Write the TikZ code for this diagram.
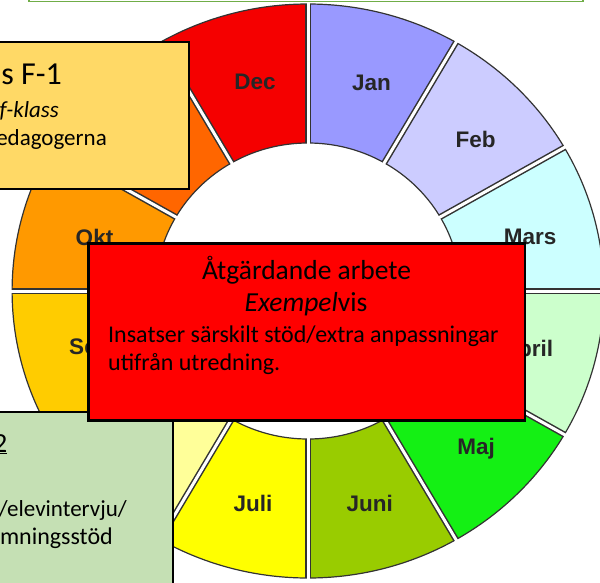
\documentclass[tikz,border=0pt]{standalone}
\usepackage{fontspec}
\setmainfont{Carlito}
\newfontfamily\monthfont{Liberation Sans}
\usetikzlibrary{calc}

\definecolor{janblue}{RGB}{153,153,255}
\definecolor{febblue}{RGB}{204,204,255}
\definecolor{marscyan}{RGB}{204,255,255}
\definecolor{aprilgreen}{RGB}{204,255,204}
\definecolor{majgreen}{RGB}{20,240,20}
\definecolor{juniolive}{RGB}{153,204,0}
\definecolor{juliyellow}{RGB}{255,255,0}
\definecolor{augyellow}{RGB}{255,255,153}
\definecolor{septgold}{RGB}{255,204,0}
\definecolor{oktorange}{RGB}{255,153,0}
\definecolor{novorange}{RGB}{255,102,0}
\definecolor{decred}{RGB}{245,0,0}
\definecolor{notegold}{RGB}{255,217,102}
\definecolor{notegreen}{RGB}{197,224,180}
\definecolor{frameline}{RGB}{112,173,71}

\def\rin{148}
\def\rout{287}
\def\monthsector[#1](#2:#3){\fill[#1] (#2:\rin) arc (#2:#3:\rin) -- (#3:\rout) arc (#3:#2:\rout) -- cycle;}
\def\monthgap(#1){\draw[gapdark] (#1:\rin) -- (#1:\rout); \draw[gapwhite] (#1:145) -- (#1:290);}

\begin{document}
\begin{tikzpicture}[x=1pt, y=-1pt,
	ringline/.style={line width=1.2pt, color=black!80},
	gapdark/.style={line width=6pt, color=black!80},
	gapwhite/.style={line width=3pt, color=white},
	monthlabel/.style={inner sep=0, text=black!85, font=\monthfont\bfseries\fontsize{22.5}{26}\selectfont},
	notebox/.style={line width=2.5pt, draw=black},
	bigtext/.style={inner sep=0, font=\fontsize{27.5}{32}\selectfont},
	headtext/.style={inner sep=0, font=\fontsize{32}{36}\selectfont},
	bodytext/.style={inner sep=0, font=\fontsize{24}{28}\selectfont},
	sidetext/.style={inner sep=0, font=\fontsize{23}{27}\selectfont}]
			%%%%% START %%%%%
			
			\clip (0,0) rectangle (600,582);
			
			% year wheel
			\begin{scope}[shift={(308,291)}, xscale=1.031, yscale=-1]
				\monthsector[janblue](60:90)
				\monthsector[febblue](30:60)
				\monthsector[marscyan](0:30)
				\monthsector[aprilgreen](-30:0)
				\monthsector[majgreen](-60:-30)
				\monthsector[juniolive](-90:-60)
				\monthsector[juliyellow](-120:-90)
				\monthsector[augyellow](-150:-120)
				\monthsector[septgold](-180:-150)
				\monthsector[oktorange](150:180)
				\monthsector[novorange](120:150)
				\monthsector[decred](90:120)
				
				\draw[ringline] (0,0) circle (\rout);
				\draw[ringline] (0,0) circle (\rin);
				
				\monthgap(0) \monthgap(30) \monthgap(60) \monthgap(90)
				\monthgap(120) \monthgap(150) \monthgap(180) \monthgap(210)
				\monthgap(240) \monthgap(270) \monthgap(300) \monthgap(330)
				
				\node[monthlabel] (jan) at (73.5:217) {Jan};
				\node[monthlabel] (feb) at (42.9:222) {Feb};
				\node[monthlabel] (mars) at (14:222) {Mars};
				\node[monthlabel] (april) at (-15.6:221) {April};
				\node[monthlabel] (maj) at (-44.1:227) {Maj};
				\node[monthlabel] (juni) at (-74.3:221) {Juni};
				\node[monthlabel] (juli) at (-104.1:219) {Juli};
				\node[monthlabel] (sept) at (195.7:216) {Sept};
				\node[monthlabel] (okt) at (165.4:214) {Okt};
				\node[monthlabel] (dec) at (103.8:215) {Dec};
			\end{scope}
			
			% frame at the top
			\draw[line width=1.5pt, draw=frameline, fill=white] (29,-40) rectangle (583,1.5);
			
			% F-1 box
			\draw[notebox, fill=notegold] (-10,42) rectangle (189,189);
			\node[headtext, anchor=base east] (fTitle) at (62,84) {s F-1};
			\node[sidetext, anchor=base east] (fKlass) at (59,117) {\textit{f-klass}};
			\node[sidetext, anchor=base east] (fPed) at (107,145) {edagogerna};
			
			% box 2, bottom left
			\draw[notebox, fill=notegreen] (-10,412) rectangle (173,600);
			\node[bigtext, anchor=base east] (tTitle) at (7.5,452) {\underline{2}};
			\node[sidetext, anchor=base east] (tElev) at (127,516) {/elevintervju/};
			\node[bodytext, anchor=base east] (tStod) at (113,544) {mningsstöd};
			
			% action box
			\draw[notebox, fill=red] (88.3,243.3) rectangle (525,420.5);
			\node[bigtext, anchor=base] (aTitle) at (306.5,279) {Åtgärdande arbete};
			\node[bigtext, anchor=base] (aEx) at (306,311) {\textit{Exempel}vis};
			\node[bodytext, anchor=base west] (aOne) at (108,342) {Insatser särskilt stöd/extra anpassningar};
			\node[bodytext, anchor=base west] (aTwo) at (108,370) {utifrån utredning.};
			
			%%%%% END %%%%%
\end{tikzpicture}
\end{document}
